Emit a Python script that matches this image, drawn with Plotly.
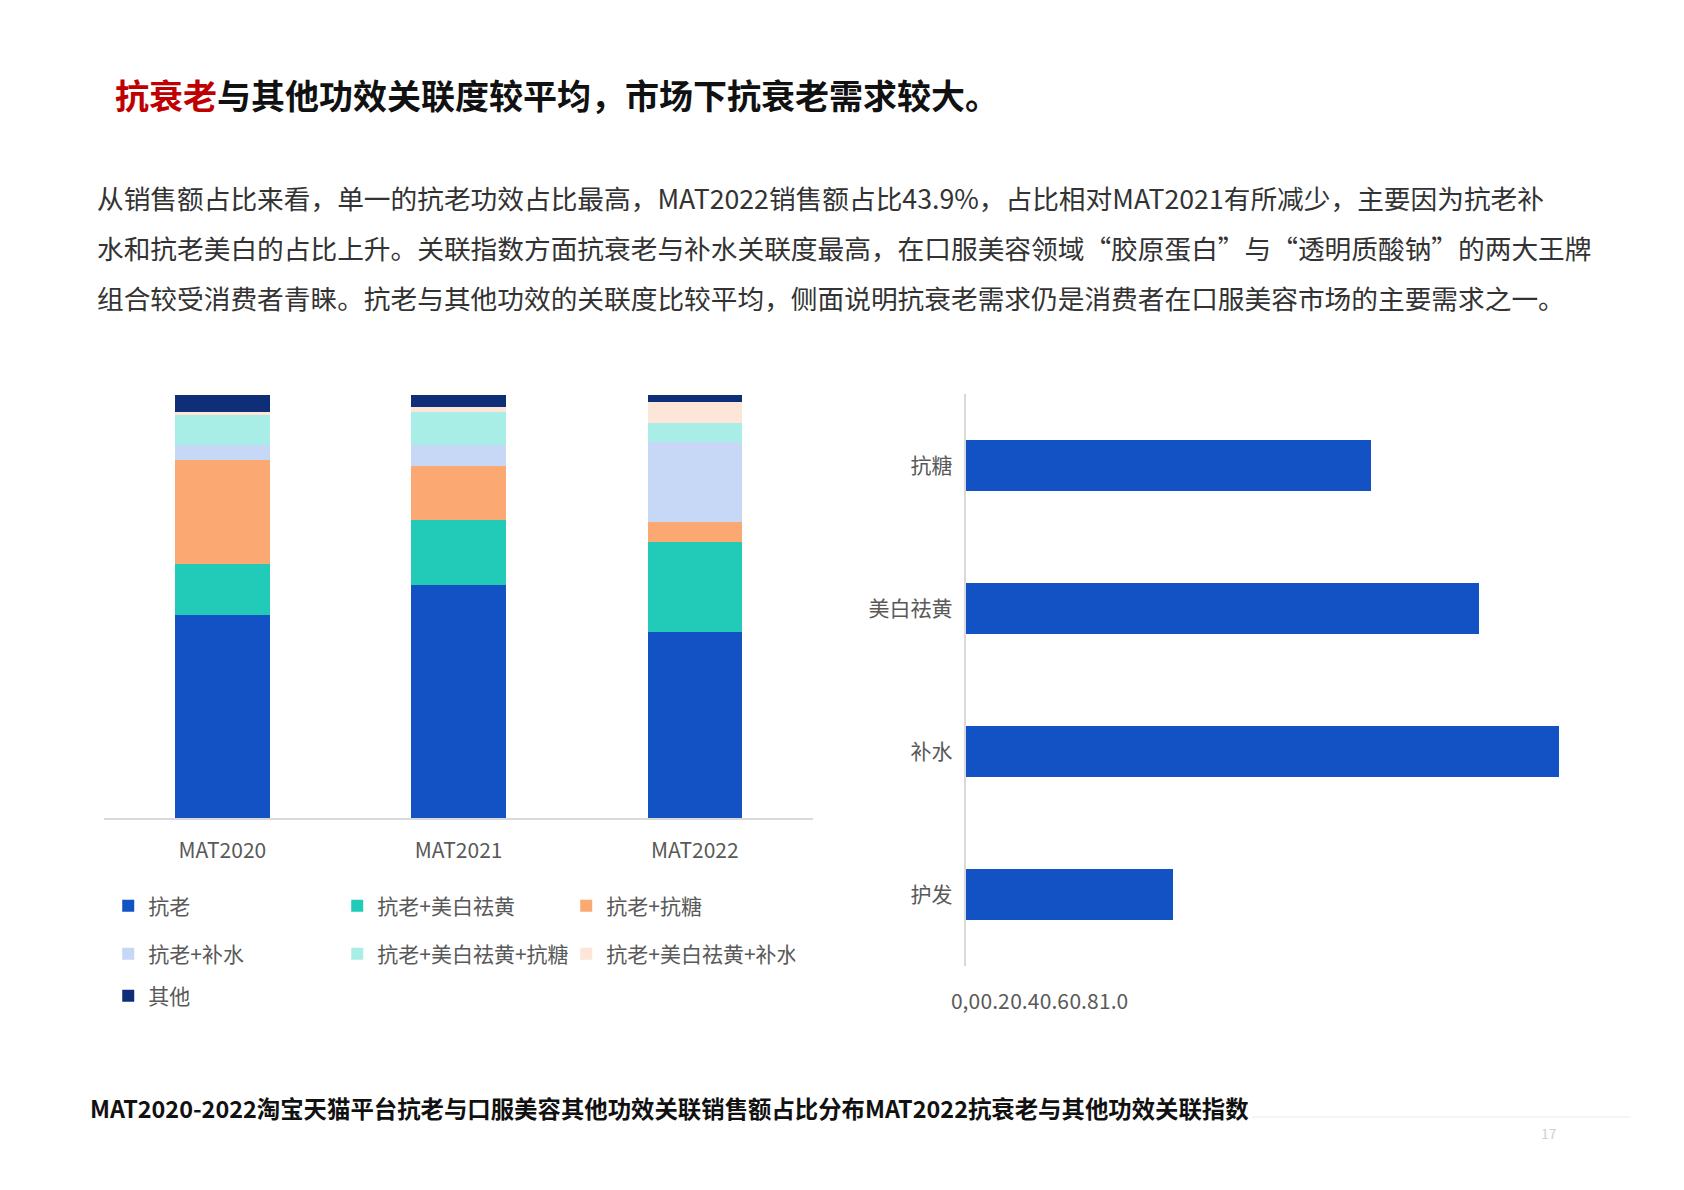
import plotly.graph_objects as go

W, H = 1684, 1190

# 左图：MAT2020-2022 抗老与其他功效关联销售额占比（%）
years = ["MAT2020", "MAT2021", "MAT2022"]
kanglao = [48.0, 55.1, 43.9]
kl_meibai = [12.1, 15.3, 21.3]
kl_kangtang = [24.5, 12.8, 4.7]
kl_bushui = [3.6, 5.0, 19.0]
kl_meibai_kangtang = [7.1, 7.7, 4.5]
kl_meibai_bushui = [0.6, 1.2, 5.0]
qita = [4.1, 2.9, 1.6]

# 右图：MAT2022 抗衰老与其他功效关联指数
effects = ["抗糖", "美白祛黄", "补水", "护发"]
index_vals = [2.74, 3.47, 4.01, 1.40]
tick_vals = [0, 0.2, 0.4, 0.6, 0.8, 1.0]
tick_text = ["0,0", "0.2", "0.4", "0.6", "0.8", "1.0"]

FONT = "Noto Sans CJK SC"
GREY = "#595959"


def px(x):
    return x / W


def py(y):
    return 1 - y / H


series = [
    ("抗老", kanglao, "#1352C4", "legend"),
    ("抗老+美白祛黄", kl_meibai, "#21CBB8", "legend"),
    ("抗老+抗糖", kl_kangtang, "#FBA873", "legend"),
    ("抗老+补水", kl_bushui, "#C6D8F5", "legend2"),
    ("抗老+美白祛黄+抗糖", kl_meibai_kangtang, "#A9EEE6", "legend2"),
    ("抗老+美白祛黄+补水", kl_meibai_bushui, "#FDE5D8", "legend2"),
    ("其他", qita, "#0E2F78", "legend3"),
]

fig = go.Figure()
for name, vals, color, lg in series:
    fig.add_trace(go.Bar(x=years, y=vals, name=name, marker_color=color,
                         marker_line_width=0, legend=lg))

fig.add_trace(go.Bar(x=index_vals, y=effects, orientation="h",
                     marker_color="#1352C4", marker_line_width=0,
                     showlegend=False, xaxis="x2", yaxis="y2"))

legend_common = dict(orientation="h", xanchor="left", yanchor="middle",
                     traceorder="normal",
                     font=dict(family=FONT, size=21, color=GREY),
                     entrywidth=184, entrywidthmode="pixels",
                     bgcolor="rgba(0,0,0,0)", itemclick=False)

fig.update_layout(
    width=W, height=H,
    margin=dict(l=0, r=0, t=0, b=0),
    paper_bgcolor="white", plot_bgcolor="white",
    barmode="stack", bargap=0.6,
    font=dict(family=FONT, color=GREY),
    xaxis=dict(domain=[px(82), px(797)], showline=True, linecolor="#D9D9D9",
               linewidth=1.5, ticks="outside", ticklen=13,
               tickcolor="rgba(0,0,0,0)", tickfont=dict(size=21, color=GREY),
               showgrid=False, fixedrange=True),
    yaxis=dict(domain=[py(810), py(387)], range=[0, 100], visible=False,
               showgrid=False),
    xaxis2=dict(domain=[px(951), px(1612)], anchor="y2", range=[0, 4.425],
                tickvals=tick_vals, ticktext=tick_text, tickangle=0,
                showgrid=False, zeroline=False, showline=False,
                ticks="outside", ticklen=17, tickcolor="rgba(0,0,0,0)",
                tickfont=dict(size=21, color=GREY)),
    yaxis2=dict(domain=[py(958), py(386)], anchor="x2", autorange="reversed",
                showline=True, linecolor="#D9D9D9", linewidth=1.5,
                showgrid=False, ticks="outside", ticklen=7,
                tickcolor="rgba(0,0,0,0)",
                tickfont=dict(size=21, color=GREY)),
    legend=dict(x=px(86), y=py(898), **legend_common),
    legend2=dict(x=px(86), y=py(946), **legend_common),
    legend3=dict(x=px(86), y=py(988), **legend_common),
)

fig.update_traces(selector=dict(type="bar", orientation="h"), width=0.353)

# 标题
fig.add_annotation(
    x=px(91), y=py(87), xref="paper", yref="paper", xanchor="left",
    yanchor="middle", showarrow=False,
    text="<b><span style='color:#C00000'>抗衰老</span>与其他功效关联度较平均，市场下抗衰老需求较大。</b>",
    font=dict(family=FONT, size=34, color="#111111"))

para = [
    "从销售额占比来看，单一的抗老功效占比最高，MAT2022销售额占比43.9%，占比相对MAT2021有所减少，主要因为抗老补",
    "水和抗老美白的占比上升。关联指数方面抗衰老与补水关联度最高，在口服美容领域“胶原蛋白”与“透明质酸钠”的两大王牌",
    "组合较受消费者青睐。抗老与其他功效的关联度比较平均，侧面说明抗衰老需求仍是消费者在口服美容市场的主要需求之一。",
]
for i, line in enumerate(para):
    fig.add_annotation(
        x=px(73), y=py(190 + 49.5 * i), xref="paper", yref="paper",
        xanchor="left", yanchor="middle", showarrow=False, text=line,
        font=dict(family=FONT, size=26.7, color="#333333"))

# 底部说明
fig.add_annotation(
    x=px(66), y=py(1100), xref="paper", yref="paper", xanchor="left",
    yanchor="middle", showarrow=False,
    text="<b>MAT2020-2022淘宝天猫平台抗老与口服美容其他功效关联销售额占比分布MAT2022抗衰老与其他功效关联指数</b>",
    font=dict(family=FONT, size=23.4, color="#111111"))

fig.add_shape(type="line", xref="paper", yref="paper",
              x0=px(1240), x1=px(1622), y0=py(1109), y1=py(1109),
              line=dict(color="#F2F2F2", width=1.5))
fig.add_annotation(
    x=px(1550), y=py(1137), xref="paper", yref="paper", showarrow=False,
    text="17", font=dict(family=FONT, size=14, color="#D0D0D0"))

fig.write_html("out.html")
